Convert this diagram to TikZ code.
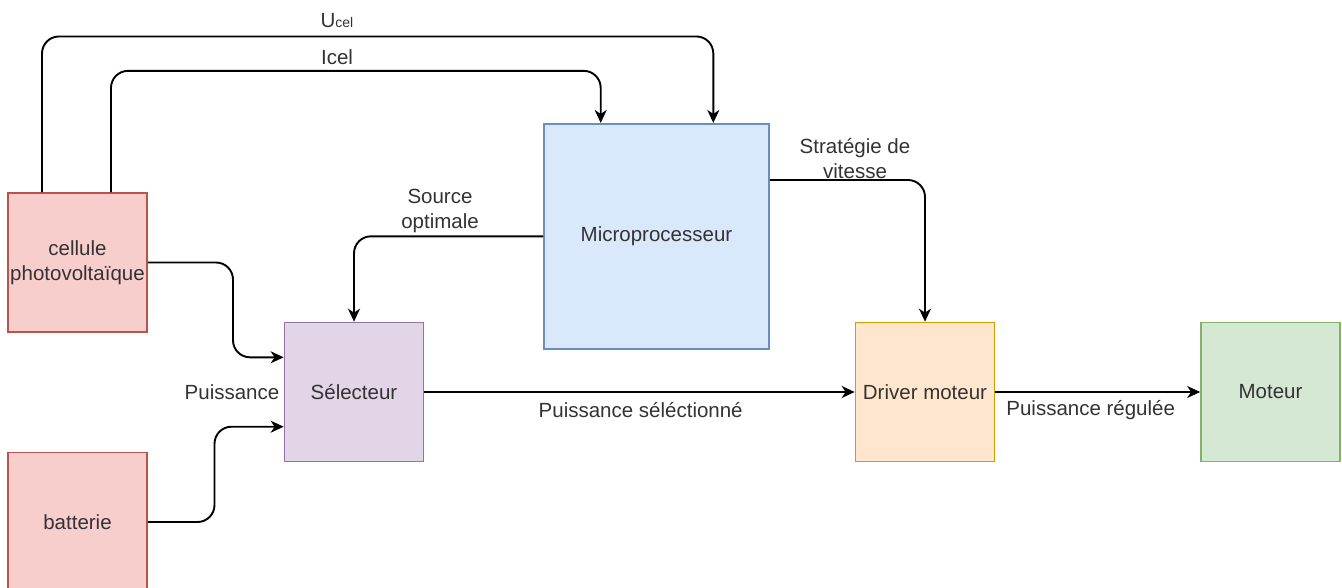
\documentclass[tikz,border=0pt]{standalone}
\usepackage{fontspec}
\setmainfont{Liberation Sans}
\usetikzlibrary{arrows.meta}
\definecolor{pinkf}{HTML}{F8CECC}\definecolor{pinkd}{HTML}{B85450}
\definecolor{purf}{HTML}{E1D5E7}\definecolor{purd}{HTML}{9673A6}
\definecolor{bluf}{HTML}{DAE8FC}\definecolor{blud}{HTML}{6C8EBF}
\definecolor{oraf}{HTML}{FFE6CC}\definecolor{orad}{HTML}{D79B00}
\definecolor{grnf}{HTML}{D5E8D4}\definecolor{grnd}{HTML}{82B366}
\definecolor{txt}{HTML}{333333}
\tikzset{
  box/.style={draw, line width=1.7pt, minimum width=139pt, minimum height=139pt, inner sep=0pt, align=center, text=txt, font=\fontsize{20.5}{24.5}\selectfont},
  lbl/.style={text=txt, align=center, inner sep=0pt, font=\fontsize{20.5}{24.5}\selectfont},
  conn/.style={line width=1.9pt, rounded corners=17pt, -{Stealth[length=13pt,width=12pt,inset=4pt]}},
}
\begin{document}
\begin{tikzpicture}[x=1pt,y=-1pt]
\useasboundingbox (0,0) rectangle (1342,587);
\node[box, fill=pinkf, draw=pinkd] (cel) at (77.5,262.5) {cellule\\photovoltaïque};
\node[box, fill=pinkf, draw=pinkd] (bat) at (77.5,522) {batterie};
\node[box, fill=purf, draw=purd] (sel) at (354,392) {Sélecteur};
\node[box, fill=bluf, draw=blud, minimum width=225pt, minimum height=225pt] (mic) at (656.5,236.3) {Microprocesseur};
\node[box, fill=oraf, draw=orad] (drv) at (925,392) {Driver moteur};
\node[box, fill=grnf, draw=grnd] (mot) at (1270.5,392) {Moteur};

\coordinate (xa) at (233,0);
\coordinate (xb) at (214.5,0);

\draw[conn] ([xshift=-35.5pt]cel.north) -- ++(0,-155.7) -| ([xshift=56.8pt]mic.north);
\draw[conn] ([xshift=33.5pt]cel.north) -- ++(0,-121.3) -| ([xshift=-55.8pt]mic.north);
\draw[conn] (cel.east) -- (cel.east -| xa) |- ([yshift=34.7pt]sel.west);
\draw[conn] (bat.east) -- (bat.east -| xb) |- ([yshift=-34.7pt]sel.west);
\draw[conn] (mic.west) -| (sel.north);
\draw[conn] ([yshift=56.3pt]mic.east) -| (drv.north);
\draw[conn] (sel.east) -- (drv.west);
\draw[conn] (drv.east) -- (mot.west);

\node[lbl] (lu) at (337,21) {U{\fontsize{14}{14}\selectfont cel}};
\node[lbl] (li) at (337,57) {Icel};
\node[lbl] (ls) at (440,211) {Source\\optimale};
\node[lbl] (lv) at (855,158.7) {Stratégie de\\vitesse};
\node[lbl] (lp) at (232,392) {Puissance};
\node[lbl] (lps) at (640.7,410.5) {Puissance séléctionné};
\node[lbl] (lpr) at (1090.7,410.5) {Puissance régulée};
\end{tikzpicture}
\end{document}
